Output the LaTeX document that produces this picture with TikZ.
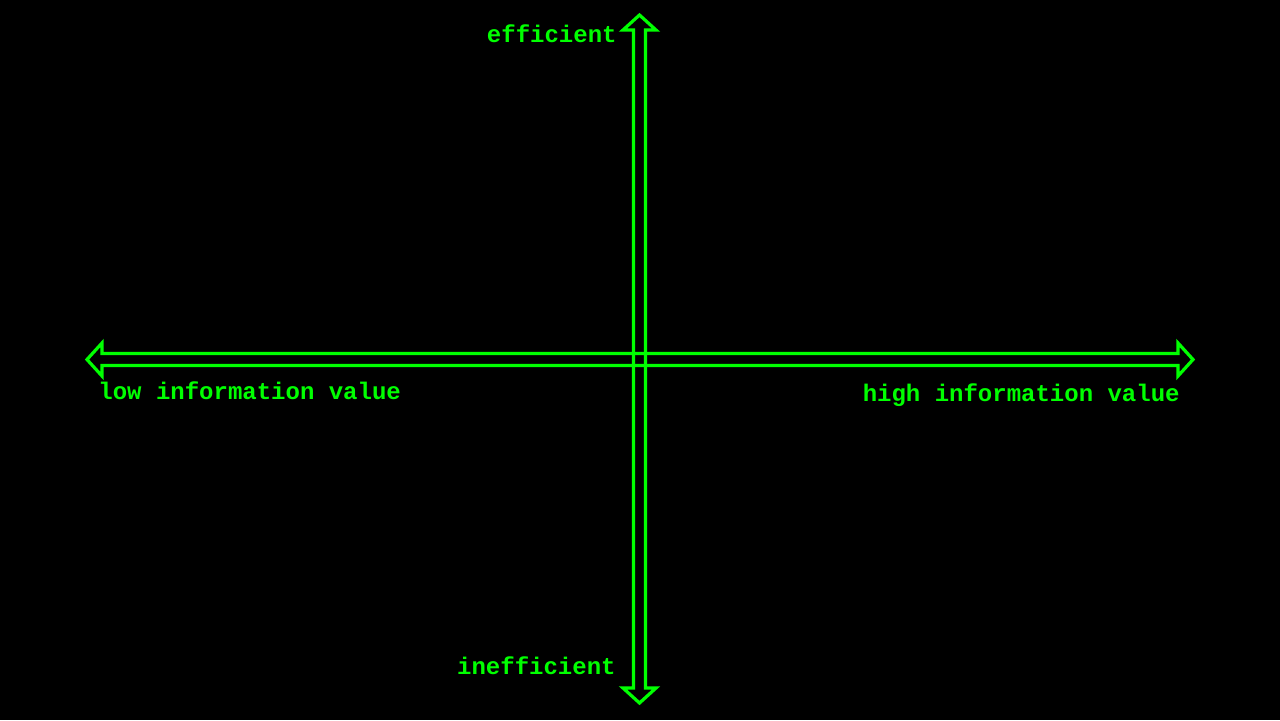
\documentclass[tikz,border=0pt]{standalone}
\usepackage{fontspec}
\newfontfamily\axisfont{Liberation Mono}
\usetikzlibrary{calc}
\definecolor{axisgreen}{RGB}{0,255,0}

\begin{document}
\begin{tikzpicture}[x=0.5pt,y=-0.5pt]
\tikzset{
  axis arrow/.style = {draw=axisgreen,line width=1.6pt,line join=miter},
  axis label/.style = {text=axisgreen,font=\axisfont\bfseries\fontsize{12}{14}\selectfont,inner sep=0pt}
}
\fill[black] (0,0) rectangle (1280,720);
\useasboundingbox (0,0) rectangle (1280,720);

%%%%%%%%%%%%%%%%%%%%%%%%%%
\coordinate (top) at (639.5,15);
\coordinate (bot) at (639.5,703);
\coordinate (lft) at (87,359.5);
\coordinate (rgt) at (1193,359.5);

% vertical axis
\draw[axis arrow] ($(top)+(-6,15)$) -- ++(-10.5,0) -- (top) -- ($(top)+(16.5,15)$) -- ++(-10.5,0)
    -- ($(bot)+(6,-15)$) -- ++(10.5,0) -- (bot) -- ($(bot)+(-16.5,-15)$) -- ++(10.5,0) -- cycle;
% horizontal axis
\draw[axis arrow] ($(lft)+(15,-6)$) -- ++(0,-10.5) -- (lft) -- ($(lft)+(15,16.5)$) -- ++(0,-10.5)
    -- ($(rgt)+(-15,6)$) -- ++(0,10.5) -- (rgt) -- ($(rgt)+(-15,-16.5)$) -- ++(0,10.5) -- cycle;

%%%%%%%%%%%%%%%%%%%%%%%%%%
\node[axis label,anchor=base east] (eff)   at (617,42)  {efficient};
\node[axis label,anchor=base east] (ineff) at (616,674) {inefficient};
\node[axis label,anchor=base west] (low)   at (98,399)  {low information value};
\node[axis label,anchor=base east] (high)  at (1180,401) {high information value};
\end{tikzpicture}
\end{document}
